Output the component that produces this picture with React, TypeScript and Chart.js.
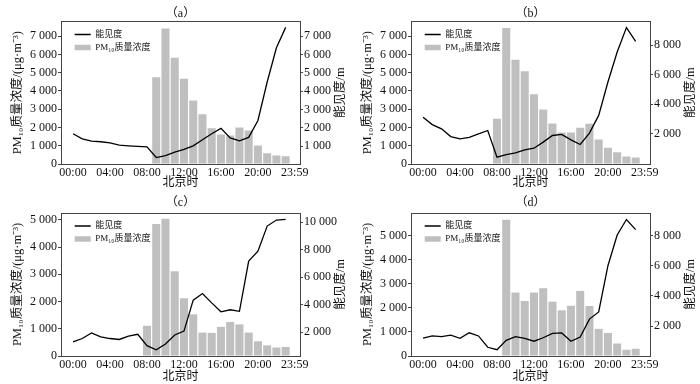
import React, { useEffect, useRef } from 'react';
import { Chart, registerables } from 'chart.js';

Chart.register(...registerables);

// ---------- data ----------
const hours = [0, 1, 2, 3, 4, 5, 6, 7, 8, 9, 10, 11, 12, 13, 14, 15, 16, 17, 18, 19, 20, 21, 22, 23];
const xTickValues = [0, 4, 8, 12, 16, 20, 23.98];
const xTickLabels = ['00:00', '04:00', '08:00', '12:00', '16:00', '20:00', '23:59'];

const panelTitles = ['（a）', '（b）', '（c）', '（d）'];
const lineLabel = '能见度';
const barLabel = 'PM₁₀质量浓度';
const xTitle = '北京时';
const leftTitle = 'PM₁₀质量浓度/(μg·m⁻³)';
const rightTitle = '能见度/m';

// (a)
const visibilityA = [1680, 1400, 1280, 1240, 1180, 1060, 1020, 990, 960, 380, 490, 680, 820, 1020, 1350, 1680, 1970, 1450, 1290, 1480, 2400, 4500, 6370, 7480];
const pmHoursA = [9, 10, 11, 12, 13, 14, 15, 16, 17, 18, 19, 20, 21, 22, 23];
const pmA = [4750, 7420, 5820, 4670, 3480, 2720, 1960, 1620, 1560, 2000, 1830, 1010, 590, 460, 420];
const leftTicksA = [0, 1000, 2000, 3000, 4000, 5000, 6000, 7000];
const rightTicksA = [1000, 2000, 3000, 4000, 5000, 6000, 7000];

// (b)
const visibilityB = [3120, 2620, 2330, 1810, 1650, 1760, 1990, 2220, 410, 590, 700, 900, 1020, 1430, 1880, 1950, 1580, 1270, 2040, 3240, 5500, 7530, 9190, 8260];
const pmHoursB = [8, 9, 10, 11, 12, 13, 14, 15, 16, 17, 18, 19, 20, 21, 22, 23];
const pmB = [2480, 7450, 5700, 5080, 3820, 2980, 2220, 1720, 1720, 1980, 2200, 1340, 890, 650, 410, 350];
const leftTicksB = [0, 1000, 2000, 3000, 4000, 5000, 6000, 7000];
const rightTicksB = [2000, 4000, 6000, 8000];

// (c)
const visibilityC = [1300, 1540, 1950, 1660, 1540, 1470, 1710, 1850, 1020, 720, 1140, 1800, 2080, 4330, 4810, 4130, 3480, 3630, 3520, 7160, 7890, 9710, 10150, 10190];
const pmHoursC = [8, 9, 10, 11, 12, 13, 14, 15, 16, 17, 18, 19, 20, 21, 22, 23];
const pmC = [1110, 4850, 5040, 3110, 2120, 1530, 860, 850, 1070, 1250, 1160, 860, 540, 390, 310, 330];
const leftTicksC = [0, 1000, 2000, 3000, 4000, 5000];
const rightTicksC = [2000, 4000, 6000, 8000, 10000];

// (d)
const visibilityD = [1190, 1340, 1290, 1390, 1180, 1550, 1340, 590, 430, 1050, 1300, 1180, 990, 1220, 1510, 1540, 990, 1270, 2460, 2930, 6000, 8040, 9070, 8400];
const pmHoursD = [9, 10, 11, 12, 13, 14, 15, 16, 17, 18, 19, 20, 21, 22, 23];
const pmD = [5670, 2640, 2290, 2640, 2820, 2260, 1900, 2090, 2710, 2080, 1130, 960, 520, 260, 300];
const leftTicksD = [0, 1000, 2000, 3000, 4000, 5000];
const rightTicksD = [2000, 4000, 6000, 8000];

// ---------- panel setup (built from the arrays above) ----------
const panels = [
  { title: panelTitles[0], vis: visibilityA, pmHours: pmHoursA, pm: pmA, leftMax: 7800, leftTicks: leftTicksA, rightMin: 27, rightMax: 7800, rightTicks: rightTicksA, left: 0, top: 0, titlePad: { top: 6.2, bottom: 0.9 }, xTitlePad: 1.5 },
  { title: panelTitles[1], vis: visibilityB, pmHours: pmHoursB, pm: pmB, leftMax: 7800, leftTicks: leftTicksB, rightMin: -50, rightMax: 9600, rightTicks: rightTicksB, left: 350, top: 0, titlePad: { top: 6.2, bottom: 0.9 }, xTitlePad: 1.5 },
  { title: panelTitles[2], vis: visibilityC, pmHours: pmHoursC, pm: pmC, leftMax: 5250, leftTicks: leftTicksC, rightMin: 270, rightMax: 10660, rightTicks: rightTicksC, left: 0, top: 192, titlePad: { top: 3.6, bottom: 3.0 }, xTitlePad: 0 },
  { title: panelTitles[3], vis: visibilityD, pmHours: pmHoursD, pm: pmD, leftMax: 5950, leftTicks: leftTicksD, rightMin: 10, rightMax: 9500, rightTicks: rightTicksD, left: 350, top: 192, titlePad: { top: 3.6, bottom: 3.0 }, xTitlePad: 0 },
];

const SERIF = "'Liberation Serif', 'Noto Sans CJK SC', serif";
const FRAME = '#444444';
const TEXT = '#111111';
const BAR = '#bfbfbf';

const fmt = (v: number) => String(Math.round(v)).replace(/\B(?=(\d{3})+(?!\d))/g, ' ');

const rightTitlePlugin = {
  id: 'rightTitle',
  afterDraw(chart: any, _args: any, opts: any) {
    const { ctx, chartArea } = chart;
    ctx.save();
    ctx.translate(opts.x, (chartArea.top + chartArea.bottom) / 2);
    ctx.rotate(-Math.PI / 2);
    ctx.font = `${opts.size}px ${SERIF}`;
    ctx.fillStyle = TEXT;
    ctx.textAlign = 'center';
    ctx.textBaseline = 'middle';
    ctx.fillText(opts.text, 0, 0);
    ctx.restore();
  },
};

const legendPlacePlugin = {
  id: 'legendPlace',
  afterLayout(chart: any, _args: any, opts: any) {
    const lg = chart.legend;
    if (!lg) return;
    const ca = chart.chartArea;
    const w = lg.width;
    const h = lg.height;
    lg.left = ca.left + opts.dx;
    lg.top = ca.top + opts.dy;
    lg.right = lg.left + w;
    lg.bottom = lg.top + h;
  },
};

function Panel({ cfg }: { cfg: any }) {
  const ref = useRef<HTMLCanvasElement>(null);
  useEffect(() => {
    const canvas = ref.current;
    if (!canvas) return;
    const chart = new Chart(canvas, {
      type: 'bar',
      data: {
        datasets: [
          {
            type: 'line',
            label: lineLabel,
            data: hours.map((h, i) => ({ x: h, y: cfg.vis[i] })),
            xAxisID: 'x',
            yAxisID: 'y1',
            borderColor: '#000',
            borderWidth: 1.3,
            pointRadius: 0,
            pointHoverRadius: 0,
            pointStyle: 'line',
            pointBorderColor: '#000',
            pointBorderWidth: 1.3,
            tension: 0,
            fill: false,
            order: 0,
          } as any,
          {
            type: 'bar',
            label: barLabel,
            data: cfg.pmHours.map((h: number, i: number) => ({ x: h, y: cfg.pm[i] })),
            xAxisID: 'x',
            yAxisID: 'y',
            backgroundColor: BAR,
            borderWidth: 0,
            barPercentage: 0.87,
            categoryPercentage: 1,
            order: 1,
          } as any,
        ],
      },
      options: {
        responsive: false,
        animation: false,
        events: [],
        layout: { padding: 0 },
        scales: {
          x: {
            type: 'linear',
            position: 'bottom',
            min: -1.3,
            max: 24.55,
            offset: false,
            afterBuildTicks: (s: any) => {
              s.ticks = xTickValues.map((v) => ({ value: v }));
            },
            afterFit: (s: any) => {
              s.height = 28;
            },
            ticks: {
              autoSkip: false,
              maxRotation: 0,
              minRotation: 0,
              padding: 2,
              color: TEXT,
              font: { family: SERIF, size: 12 },
              callback: (_v: any, i: number) => xTickLabels[i],
            },
            grid: { drawOnChartArea: false, drawTicks: false, offset: false },
            border: { display: true, color: FRAME, width: 1 },
            title: {
              display: true,
              text: xTitle,
              color: TEXT,
              font: { family: SERIF, size: 12 },
              padding: { top: 0, bottom: cfg.xTitlePad },
            },
          },
          x2: {
            type: 'linear',
            position: 'top',
            min: -1.3,
            max: 24.55,
            offset: false,
            afterFit: (s: any) => {
              s.height = 0;
            },
            ticks: { display: false },
            grid: { display: false, drawTicks: false },
            border: { display: true, color: FRAME, width: 1 },
          },
          y: {
            type: 'linear',
            position: 'left',
            min: 0,
            max: cfg.leftMax,
            afterBuildTicks: (s: any) => {
              s.ticks = cfg.leftTicks.map((v: number) => ({ value: v }));
            },
            afterFit: (s: any) => {
              s.width = 61;
            },
            ticks: {
              padding: 1,
              color: TEXT,
              font: { family: SERIF, size: 12 },
              callback: (v: any) => fmt(Number(v)),
            },
            grid: { drawOnChartArea: false, drawTicks: true, tickLength: 3, color: FRAME },
            border: { display: true, color: FRAME, width: 1 },
            title: {
              display: true,
              text: leftTitle,
              color: TEXT,
              font: { family: SERIF, size: 12.5 },
              padding: { top: 10.5, bottom: 0 },
            },
          },
          y1: {
            type: 'linear',
            position: 'right',
            min: cfg.rightMin,
            max: cfg.rightMax,
            afterBuildTicks: (s: any) => {
              s.ticks = cfg.rightTicks.map((v: number) => ({ value: v }));
            },
            afterFit: (s: any) => {
              s.width = 50;
            },
            ticks: {
              padding: 1,
              color: TEXT,
              font: { family: SERIF, size: 12 },
              callback: (v: any) => fmt(Number(v)),
            },
            grid: { drawOnChartArea: false, drawTicks: true, tickLength: 3, color: FRAME },
            border: { display: true, color: FRAME, width: 1 },
          },
        },
        plugins: {
          title: {
            display: true,
            text: cfg.title,
            fullSize: false,
            color: TEXT,
            font: { family: SERIF, size: 12, weight: 'normal' },
            padding: cfg.titlePad,
          },
          legend: {
            display: true,
            position: 'chartArea',
            align: 'start',
            labels: {
              usePointStyle: true,
              pointStyleWidth: 16,
              boxHeight: 5.5,
              padding: 4,
              color: TEXT,
              font: { family: SERIF, size: 9 },
              generateLabels: (chart: any) => {
                const items = Chart.defaults.plugins.legend.labels.generateLabels(chart);
                return items.map((it: any) => {
                  if (it.datasetIndex === 0) {
                    return { ...it, pointStyle: 'line', strokeStyle: '#000', lineWidth: 1.3 };
                  }
                  return { ...it, pointStyle: 'rect', fillStyle: BAR, strokeStyle: BAR, lineWidth: 0 };
                });
              },
            },
          },
          tooltip: { enabled: false },
          rightTitle: { text: rightTitle, x: 341, size: 12.5 },
          legendPlace: { dx: 9.7, dy: 4.5 },
        } as any,
      },
      plugins: [rightTitlePlugin, legendPlacePlugin],
    } as any);
    return () => chart.destroy();
  }, [cfg]);
  return (
    <canvas
      ref={ref}
      width={350}
      height={192}
      style={{ position: 'absolute', left: cfg.left, top: cfg.top, width: 350, height: 192 }}
    />
  );
}

export default function App() {
  return (
    <div style={{ position: 'absolute', left: 0, top: 0, width: 700, height: 384, background: '#fff', overflow: 'hidden' }}>
      {panels.map((p, i) => (
        <Panel key={i} cfg={p} />
      ))}
    </div>
  );
}
